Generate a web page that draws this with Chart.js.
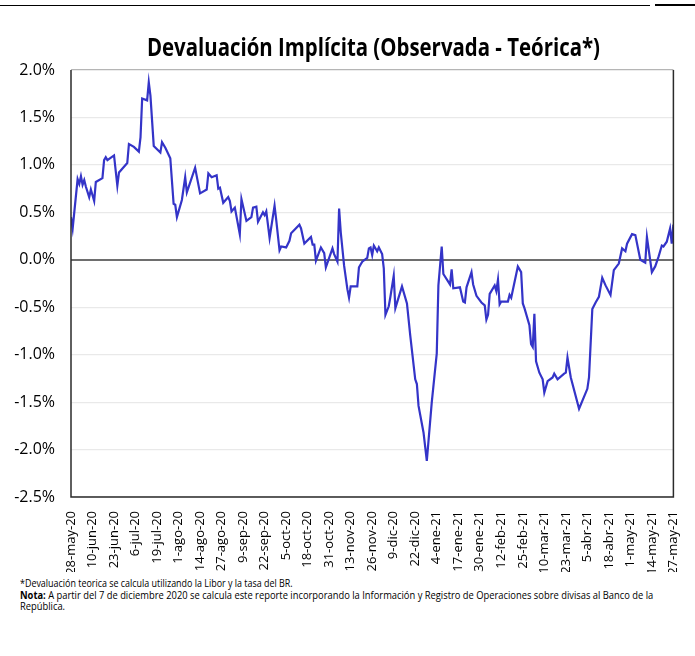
<!DOCTYPE html>
<html lang="es">
<head>
<meta charset="utf-8">
<script src="https://cdn.jsdelivr.net/npm/chart.js@4.4.1/dist/chart.umd.min.js"></script>
<style>
  html, body { margin: 0; padding: 0; background: #fff; }
  body { width: 695px; height: 656px; position: relative; overflow: hidden; font-family: "Open Sans", sans-serif; color: #000; }
  .rule { position: absolute; top: 5px; left: 0; width: 650px; height: 1px; background: #000; }
  .rule-end { position: absolute; top: 4px; left: 655px; width: 40px; height: 2px; background: #000; }
  #wrap { position: absolute; left: 0; top: 0; width: 695px; height: 572px; }
  h1 { position: absolute; left: 26px; width: 695px; top: 29px; margin: 0; text-align: center;
       font-size: 25.5px; line-height: 34px; font-weight: bold; white-space: nowrap;
       transform: scaleX(0.8); transform-origin: 50% 0; }
  .notes { position: absolute; left: 20px; top: 577px; white-space: nowrap; transform: scaleX(0.85); transform-origin: 0 0; }
  .notes .l1 { font-size: 10.5px; line-height: 13px; }
  .notes .l2 { font-size: 11px; line-height: 10.5px; }
</style>
</head>
<body>
<div class="rule"></div><div class="rule-end"></div>
<div id="wrap"><canvas id="devChart"></canvas></div>
<h1>Devaluación Implícita (Observada - Teórica*)</h1>
<div class="notes">
  <div class="l1">*Devaluación teorica se calcula utilizando la Libor y la tasa del BR.</div>
  <div class="l2"><b>Nota:</b> A partir del 7 de diciembre 2020 se calcula este reporte incorporando la Información y Registro de Operaciones sobre divisas al Banco de la<br>República.</div>
</div>
<script>
// días contados desde el 28-may-20
var days = [0, 1, 4, 5, 6, 7, 8, 9, 11, 12, 14, 15, 19, 20, 21, 22, 26, 28, 29, 34,
    35, 38, 41, 42, 43, 46, 47, 48, 50, 54, 55, 57, 60, 62, 63, 64, 67, 69, 70, 75,
    78, 82, 83, 85, 88, 89, 90, 92, 95, 96, 97, 99, 102, 103, 106, 109, 110, 112, 113, 116,
    117, 118, 120, 123, 124, 126, 127, 130, 132, 133, 138, 139, 141, 145, 146, 147, 148, 151, 153, 154,
    158, 159, 161, 162, 163, 165, 167, 168, 169, 173, 174, 175, 176, 179, 180, 181, 182, 183, 185, 186,
    188, 189, 190, 192, 193, 195, 196, 200, 203, 205, 208, 209, 210, 213, 215, 218, 221, 222, 224, 225,
    229, 230, 231, 235, 237, 238, 239, 242, 243, 245, 248, 250, 251, 252, 253, 256, 257, 258, 259, 260,
    264, 265, 266, 270, 272, 273, 274, 277, 278, 279, 280, 281, 283, 285, 286, 288, 291, 292, 294, 298,
    299, 300, 302, 307, 312, 313, 315, 317, 319, 321, 323, 326, 328, 331, 333, 335, 336, 339, 341, 344,
    347, 348, 351, 353, 355, 357, 358, 360, 362, 363, 364];

// devaluación implícita, en %
var devaluacion = [0.45, 0.33, 0.85, 0.80, 0.88, 0.79, 0.84, 0.77, 0.66, 0.74, 0.62, 0.82, 0.86, 1.05, 1.08, 1.05, 1.10, 0.78, 0.92, 1.02,
    1.22, 1.19, 1.14, 1.29, 1.70, 1.68, 1.87, 1.73, 1.20, 1.13, 1.24, 1.18, 1.07, 0.59, 0.58, 0.45, 0.63, 0.87, 0.71, 0.97,
    0.70, 0.74, 0.91, 0.87, 0.89, 0.75, 0.76, 0.60, 0.66, 0.62, 0.51, 0.55, 0.27, 0.64, 0.41, 0.45, 0.55, 0.56, 0.40, 0.50,
    0.47, 0.51, 0.23, 0.57, 0.42, 0.10, 0.14, 0.13, 0.20, 0.28, 0.37, 0.33, 0.17, 0.24, 0.16, 0.16, -0.01, 0.13, 0.07, -0.08,
    0.12, 0.06, -0.02, 0.54, 0.29, -0.06, -0.31, -0.40, -0.28, -0.28, -0.08, -0.05, -0.02, 0.02, 0.12, 0.13, 0.05, 0.15, 0.09, 0.13,
    0.06, -0.09, -0.58, -0.49, -0.39, -0.17, -0.51, -0.28, -0.46, -0.80, -1.26, -1.31, -1.54, -1.82, -2.12, -1.50, -0.99, -0.27, 0.14, -0.15,
    -0.26, -0.10, -0.30, -0.29, -0.44, -0.45, -0.29, -0.13, -0.26, -0.38, -0.45, -0.48, -0.63, -0.58, -0.36, -0.27, -0.33, -0.21, -0.47, -0.44,
    -0.44, -0.37, -0.40, -0.07, -0.13, -0.46, -0.51, -0.69, -0.89, -0.92, -0.57, -1.07, -1.19, -1.26, -1.40, -1.28, -1.24, -1.20, -1.26, -1.20,
    -1.19, -1.03, -1.24, -1.57, -1.36, -1.24, -0.52, -0.45, -0.39, -0.19, -0.27, -0.37, -0.11, -0.04, 0.12, 0.09, 0.17, 0.27, 0.26, 0.00,
    -0.03, 0.24, -0.13, -0.07, 0.03, 0.15, 0.14, 0.19, 0.33, 0.17, 0.37];

var tickLabels = ['28-may-20', '10-jun-20', '23-jun-20', '6-jul-20', '19-jul-20', '1-ago-20', '14-ago-20',
    '27-ago-20', '9-sep-20', '22-sep-20', '5-oct-20', '18-oct-20', '31-oct-20', '13-nov-20', '26-nov-20',
    '9-dic-20', '22-dic-20', '4-ene-21', '17-ene-21', '30-ene-21', '12-feb-21', '25-feb-21', '10-mar-21',
    '23-mar-21', '5-abr-21', '18-abr-21', '1-may-21', '14-may-21', '27-may-21'];
var tickStep = 13;

var font = '"Open Sans", sans-serif';

// marco oscuro a la izquierda, derecha y abajo del área de datos
var frame = {
    id: 'frame',
    afterDatasetsDraw: function (chart) {
        var a = chart.chartArea, ctx = chart.ctx;
        ctx.save();
        ctx.strokeStyle = '#2b2b2b';
        ctx.lineWidth = 1.5;
        ctx.beginPath();
        ctx.moveTo(a.left, a.top);
        ctx.lineTo(a.left, a.bottom);
        ctx.lineTo(a.right, a.bottom);
        ctx.lineTo(a.right, a.top);
        ctx.stroke();
        ctx.restore();
    }
};

new Chart(document.getElementById('devChart'), {
    type: 'line',
    data: {
        datasets: [{
            data: days.map(function (d, i) { return { x: d, y: devaluacion[i] }; }),
            borderColor: '#3434c8',
            borderWidth: 2.2,
            pointRadius: 0,
            tension: 0,
            fill: false
        }]
    },
    options: {
        responsive: true,
        maintainAspectRatio: false,
        animation: false,
        layout: { padding: { left: 0, right: 10, top: 70, bottom: 0 } },
        plugins: {
            legend: { display: false },
            tooltip: { enabled: false },
            title: { display: false }
        },
        scales: {
            x: {
                type: 'linear',
                min: 0,
                max: 364,
                afterFit: function (s) { s.height = 75; },
                afterBuildTicks: function (s) {
                    s.ticks = tickLabels.map(function (_, i) { return { value: i * tickStep }; });
                },
                grid: { display: false },
                border: { display: false },
                ticks: {
                    autoSkip: false,
                    minRotation: 90,
                    maxRotation: 90,
                    padding: 6,
                    color: '#000',
                    font: { family: font, size: 13 },
                    callback: function (v, i) { return tickLabels[i]; }
                }
            },
            y: {
                min: -2.5,
                max: 2,
                afterFit: function (s) { s.width = 71; },
                grid: {
                    drawTicks: false,
                    color: function (c) {
                        if (!c.tick) return '#e9e9e9';
                        if (c.tick.value === 0) return '#6e6e6e';
                        return c.tick.value === 2 ? '#b5b5b5' : '#e9e9e9';
                    },
                    lineWidth: function (c) { return c.tick && c.tick.value === 0 ? 2 : 1.2; }
                },
                border: { display: false },
                ticks: {
                    stepSize: 0.5,
                    padding: 16,
                    color: '#000',
                    font: { family: font, size: 16 },
                    callback: function (v) { return v.toFixed(1) + '%'; }
                }
            }
        }
    },
    plugins: [frame]
});
</script>
</body>
</html>
